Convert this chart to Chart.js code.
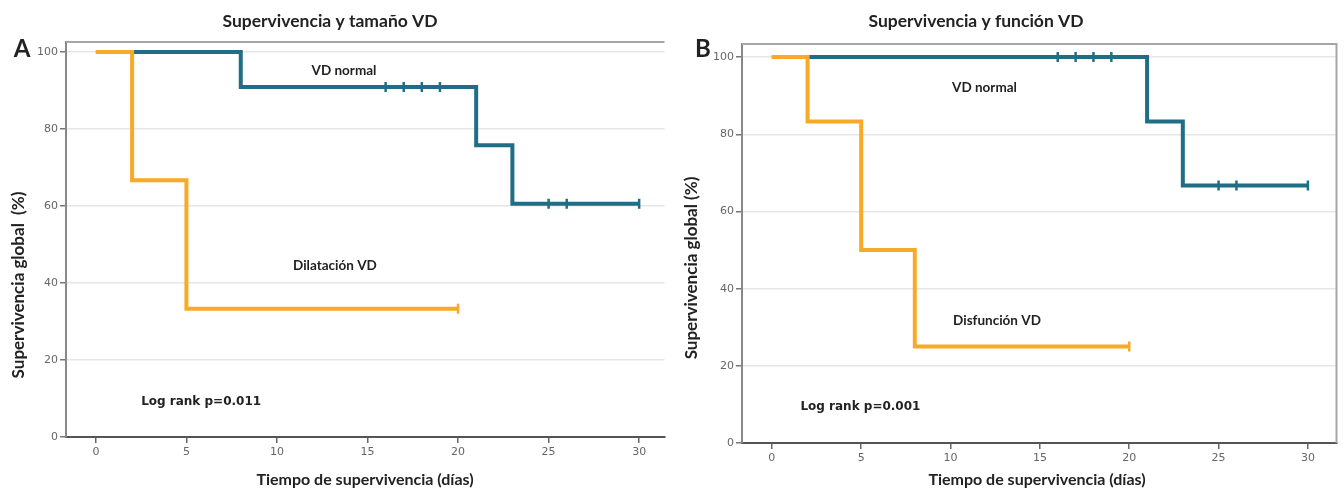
<!DOCTYPE html>
<html lang="es">
<head>
  <meta charset="UTF-8">
  <title>Supervivencia y VD</title>
  <script src="https://cdn.jsdelivr.net/npm/chart.js"></script>
  <style>
    body { margin: 0; background: #fff; }
    .panel { position: absolute; top: 0; width: 672px; height: 491px; }
  </style>
</head>
<body>
  <div class="panel" style="left:0"><canvas id="chartA" width="672" height="491"></canvas></div>
  <div class="panel" style="left:672px"><canvas id="chartB" width="672" height="491"></canvas></div>

  <script>
    // ejes
    const xTicks = [0, 5, 10, 15, 20, 25, 30];
    const yTicks = [0, 20, 40, 60, 80, 100];

    // A: tamaño VD
    const diasA_normal = [0, 8, 21, 23, 30];
    const supA_normal = [100, 90.9, 75.8, 60.6, 60.6];
    const censA_normal_dias = [16, 17, 18, 19, 25, 26, 30];
    const censA_normal_sup = [90.9, 90.9, 90.9, 90.9, 60.6, 60.6, 60.6];
    const diasA_dilat = [0, 2, 5, 20];
    const supA_dilat = [100, 66.7, 33.3, 33.3];
    const censA_dilat_dias = [20];
    const censA_dilat_sup = [33.3];

    // B: función VD
    const diasB_normal = [0, 21, 23, 30];
    const supB_normal = [100, 83.3, 66.7, 66.7];
    const censB_normal_dias = [16, 17, 18, 19, 25, 26, 30];
    const censB_normal_sup = [100, 100, 100, 100, 66.7, 66.7, 66.7];
    const diasB_disf = [0, 2, 5, 8, 20];
    const supB_disf = [100, 83.3, 50, 25, 25];
    const censB_disf_dias = [20];
    const censB_disf_sup = [25];

    const AZUL = '#1f6e86';
    const NARANJA = '#f8a926';
    const FONT = 'Lato, "Open Sans", sans-serif';

    const toPoints = (xs, ys) => xs.map((x, i) => ({ x: x, y: ys[i] }));

    // textos fijos de cada panel (titulo, letra, ejes, anotaciones)
    const textPlugin = {
      id: 'kmText',
      afterDraw(chart, args, opts) {
        const ctx = chart.ctx;
        const ca = chart.chartArea;
        const sx = chart.scales.x, sy = chart.scales.y;
        ctx.save();
        // marco superior (y derecho en B)
        ctx.strokeStyle = '#a6a6a6';
        ctx.lineWidth = 2;
        ctx.beginPath();
        ctx.moveTo(ca.left, ca.top);
        ctx.lineTo(ca.right, ca.top);
        if (opts.rightBorder) ctx.lineTo(ca.right, ca.bottom);
        ctx.stroke();

        ctx.fillStyle = '#222';
        ctx.textAlign = 'center';
        ctx.textBaseline = 'middle';
        ctx.font = 'bold 17.5px ' + FONT;
        ctx.fillText(opts.title, opts.titleX, 21);
        ctx.font = 'bold 24px ' + FONT;
        ctx.fillText(opts.letter, opts.letterX, 49);
        ctx.font = 'bold 16px ' + FONT;
        ctx.fillText('Tiempo de supervivencia (días)', 365, 480);
        ctx.save();
        ctx.translate(opts.yTitleX, opts.yTitleY);
        ctx.rotate(-Math.PI / 2);
        ctx.font = 'bold 17px ' + FONT;
        ctx.fillText(opts.yTitle, 0, 0);
        ctx.restore();

        opts.notes.forEach(n => {
          ctx.font = n.font;
          ctx.textAlign = n.align;
          ctx.fillText(n.text, sx.getPixelForValue(n.x), sy.getPixelForValue(n.y));
        });
        ctx.restore();
      }
    };

    function makeChart(id, d, target) {
      const padding = { left: 30, right: 4, top: 30, bottom: 30 };
      const chart = new Chart(document.getElementById(id), {
        type: 'line',
        data: {
          datasets: [
            { data: toPoints(d.censGrisX, d.censGrisY), showLine: false, pointStyle: 'line', rotation: 90,
              radius: 5, borderWidth: 2.5, borderColor: NARANJA, backgroundColor: NARANJA },
            { data: toPoints(d.censAzulX, d.censAzulY), showLine: false, pointStyle: 'line', rotation: 90,
              radius: 5, borderWidth: 2.5, borderColor: AZUL, backgroundColor: AZUL },
            { data: toPoints(d.naranjaX, d.naranjaY), stepped: 'before', borderColor: NARANJA,
              borderWidth: 4, pointRadius: 0, fill: false, borderJoinStyle: 'miter' },
            { data: toPoints(d.azulX, d.azulY), stepped: 'before', borderColor: AZUL,
              borderWidth: 4, pointRadius: 0, fill: false, borderJoinStyle: 'miter' }
          ]
        },
        options: {
          responsive: false,
          animation: false,
          layout: { padding: padding },
          plugins: {
            legend: { display: false },
            tooltip: { enabled: false },
            kmText: d.text
          },
          scales: {
            x: {
              type: 'linear',
              min: d.xMin, max: d.xMax,
              afterBuildTicks: s => { s.ticks = xTicks.map(v => ({ value: v })); },
              grid: { drawOnChartArea: false, tickLength: 6, tickColor: '#666', lineWidth: 1.5 },
              border: { color: '#555', width: 2 },
              ticks: { color: '#666', padding: 3, font: { family: 'DejaVu Sans', size: 11 } }
            },
            y: {
              min: 0, max: d.yMax,
              afterBuildTicks: s => { s.ticks = yTicks.map(v => ({ value: v })); },
              grid: {
                color: c => (c.tick && c.tick.value === 0) ? 'rgba(0,0,0,0)' : '#e6e6e6',
                lineWidth: 1.5, tickLength: 6, tickColor: '#777'
              },
              border: { color: '#888', width: 2 },
              ticks: { color: '#666', padding: 2, font: { family: 'DejaVu Sans', size: 11 } }
            }
          }
        },
        plugins: [textPlugin]
      });
      // ajustar el area del grafico a la posicion de la figura
      const ca = chart.chartArea;
      padding.left += target.left - ca.left;
      padding.top += target.top - ca.top;
      padding.right += ca.right - target.right;
      padding.bottom += ca.bottom - target.bottom;
      chart.update('none');
      return chart;
    }

    const logFont = 'bold 12px "DejaVu Sans", sans-serif';
    const notaFont = 'bold 13.5px ' + FONT;

    makeChart('chartA', {
      azulX: diasA_normal, azulY: supA_normal,
      naranjaX: diasA_dilat, naranjaY: supA_dilat,
      censAzulX: censA_normal_dias, censAzulY: censA_normal_sup,
      censGrisX: censA_dilat_dias, censGrisY: censA_dilat_sup,
      xMin: -1.65, xMax: 31.4, yMax: 102.6,
      text: {
        title: 'Supervivencia y tamaño VD', titleX: 330, letter: 'A', letterX: 22,
        yTitle: 'Supervivencia global  (%)', yTitleX: 19, yTitleY: 285, rightBorder: false,
        notes: [
          { text: 'VD normal', x: 13.7, y: 95.1, font: notaFont, align: 'center' },
          { text: 'Dilatación VD', x: 13.2, y: 44.4, font: notaFont, align: 'center' },
          { text: 'Log rank p=0.011', x: 2.5, y: 9.1, font: logFont, align: 'left' }
        ]
      }
    }, { left: 66, right: 668, top: 42, bottom: 437 });

    makeChart('chartB', {
      azulX: diasB_normal, azulY: supB_normal,
      naranjaX: diasB_disf, naranjaY: supB_disf,
      censAzulX: censB_normal_dias, censAzulY: censB_normal_sup,
      censGrisX: censB_disf_dias, censGrisY: censB_disf_sup,
      xMin: -1.67, xMax: 31.6, yMax: 103.4,
      text: {
        title: 'Supervivencia y función VD', titleX: 304, letter: 'B', letterX: 31,
        yTitle: 'Supervivencia global (%)', yTitleX: 20, yTitleY: 268, rightBorder: true,
        notes: [
          { text: 'VD normal', x: 11.9, y: 92.0, font: notaFont, align: 'center' },
          { text: 'Disfunción VD', x: 12.6, y: 31.6, font: notaFont, align: 'center' },
          { text: 'Log rank p=0.001', x: 1.6, y: 9.3, font: logFont, align: 'left' }
        ]
      }
    }, { left: 70, right: 669, top: 44, bottom: 443 });
  </script>
</body>
</html>
